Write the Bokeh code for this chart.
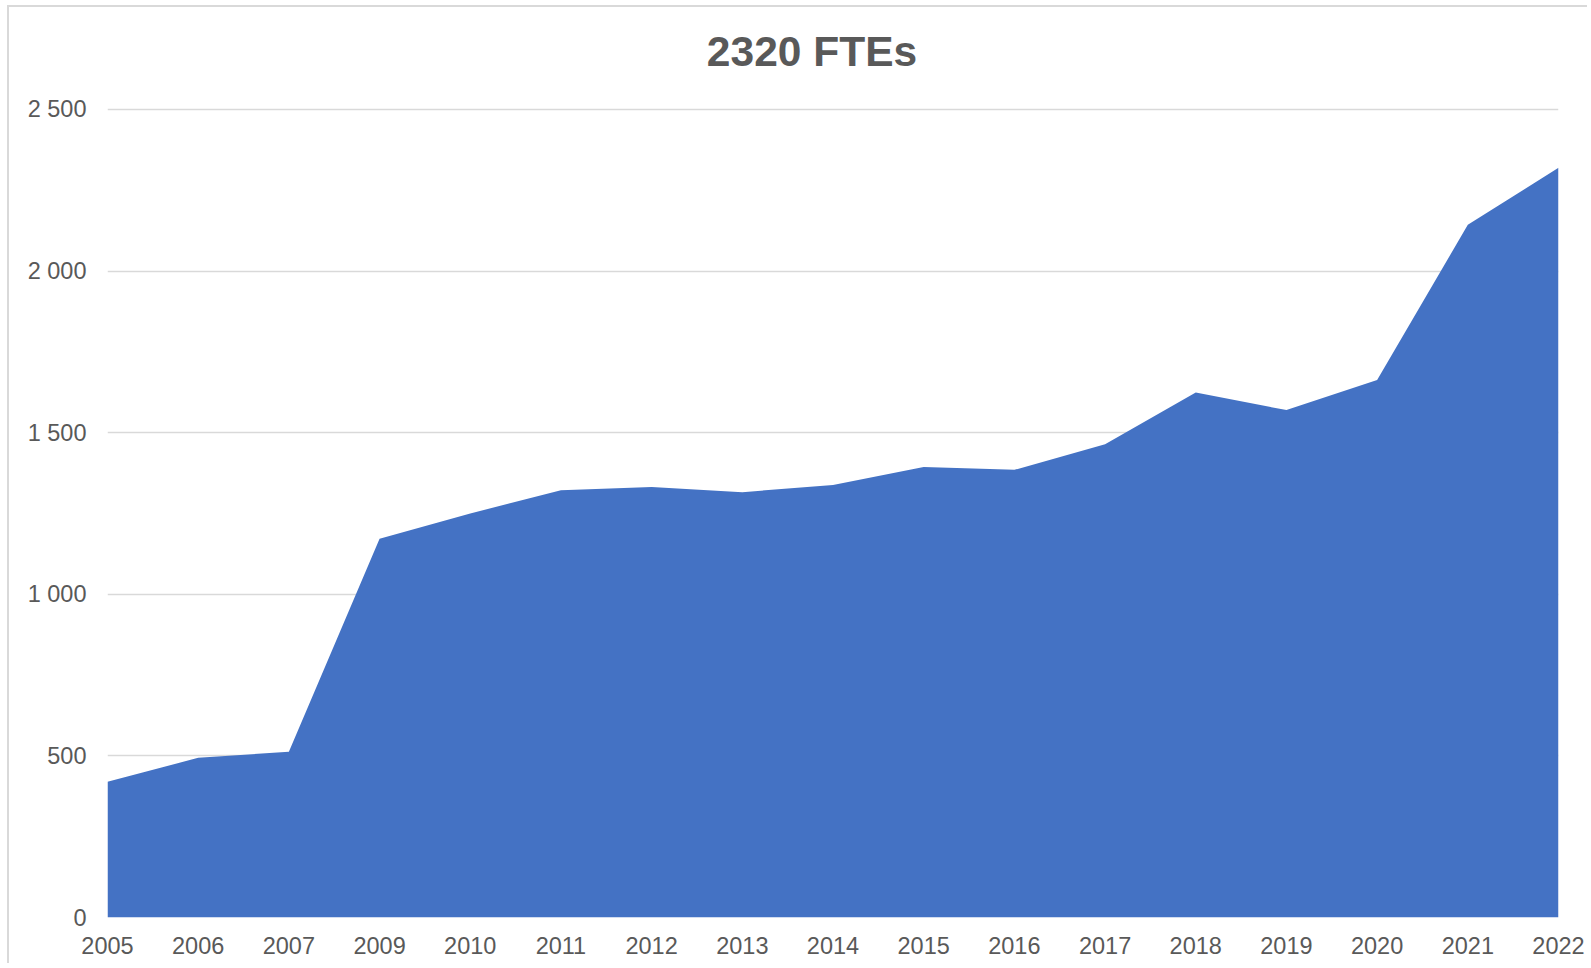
from bokeh.plotting import figure
from bokeh.models import Range1d, FixedTicker, Label
from bokeh.embed import file_html
from bokeh.resources import INLINE

years = ["2005", "2006", "2007", "2009", "2010", "2011", "2012", "2013", "2014",
         "2015", "2016", "2017", "2018", "2019", "2020", "2021", "2022"]
ftes = [420, 494, 513, 1172, 1250, 1322, 1332, 1316, 1338,
        1394, 1385, 1464, 1624, 1570, 1663, 2143, 2320]
y_ticks = [0, 500, 1000, 1500, 2000, 2500]
title_text = "2320 FTEs"

xs = list(range(len(years)))

# frame extends above the top gridline to hold the title
p = figure(width=1580, height=958, output_backend="svg", toolbar_location=None,
           x_range=Range1d(0, len(years) - 1), y_range=Range1d(0, 2800),
           min_border_left=98, min_border_right=31, min_border_top=5,
           min_border_bottom=48)
p.styles = {"border-left": "2px solid #d9d9d9", "border-top": "2px solid #d9d9d9",
            "margin-left": "7px", "margin-top": "5px"}

p.varea(x=xs, y1=[0] * len(xs), y2=ftes, fill_color="#4472C4", fill_alpha=1.0)

p.outline_line_color = None
p.background_fill_color = "white"
p.border_fill_color = "white"

title = Label(x=(len(years) - 1) / 2, y=y_ticks[-1], x_offset=-21, y_offset=58,
              text=title_text, text_align="center", text_baseline="alphabetic",
              text_font="Liberation Sans", text_font_size="42.5px",
              text_font_style="bold", text_color="#595959")
p.add_layout(title)

p.xaxis.ticker = FixedTicker(ticks=xs)
p.xaxis.major_label_overrides = {i: y for i, y in enumerate(years)}
p.yaxis.ticker = FixedTicker(ticks=y_ticks)
p.yaxis.major_label_overrides = {v: f"{v:,}".replace(",", " ") for v in y_ticks}

for ax in (p.xaxis, p.yaxis):
    ax.axis_line_color = None
    ax.major_tick_line_color = None
    ax.minor_tick_line_color = None
    ax.major_label_text_font = "Liberation Sans"
    ax.major_label_text_font_size = "23.5px"
    ax.major_label_text_color = "#595959"
p.xaxis.major_label_standoff = 13
p.yaxis.major_label_standoff = 15

p.xgrid.grid_line_color = None
p.ygrid.grid_line_color = "#d9d9d9"
p.ygrid.grid_line_width = 1.5

open("out.html", "w").write(file_html(p, INLINE))
